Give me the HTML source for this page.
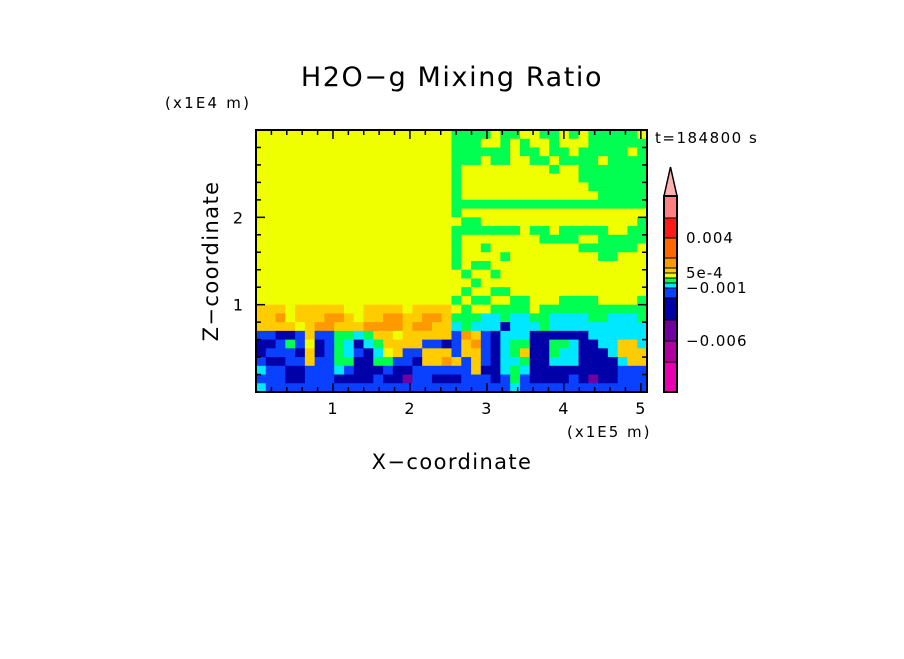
<!DOCTYPE html>
<html><head><meta charset="utf-8"><style>
body{margin:0;background:#fff;width:904px;height:654px;overflow:hidden}
text{font-family:"DejaVu Sans","Liberation Sans",sans-serif}
</style></head><body>
<svg id="s" width="904" height="654" xmlns="http://www.w3.org/2000/svg">
<text x="452" y="86" font-size="27" letter-spacing="1.6" text-anchor="middle">H2O−g Mixing Ratio</text>
<text x="165" y="108" font-size="15" letter-spacing="2.2">(x1E4 m)</text>
<text x="655" y="143" font-size="15" letter-spacing="1.5">t=184800 s</text>
<text x="567" y="437" font-size="15" letter-spacing="2">(x1E5 m)</text>
<text x="452" y="469" font-size="21" letter-spacing="1.4" text-anchor="middle">X−coordinate</text>
<text transform="translate(218,261) rotate(-90)" font-size="21" letter-spacing="1.4" text-anchor="middle">Z−coordinate</text>
<g id="field"></g>
<g id="axes"></g>
<g id="cbar"></g>
</svg>
<script>
const palette={Y:"#f0ff00",G:"#00ff50",C:"#00e8ff",B:"#0a40ff",D:"#0000a8",O:"#ffcc00",R:"#ff9900",P:"#7000a0"};
const leftTop="YYYYYYYYYYYYYYYYYYYY";
const rightTop=["GGGGYGGYYGGYGYGGGGGY","GGGYYGYGYYGYYYGGGGGG","GGGGGGYGGYGGYGGGGGYG","GGGYGGYYGGYGGGGYGGGG","GYYYYYYYYYGYYGGGGGGG","GYYYYYYYYYYYYGGGGGGG","GYYYYYYYYYYYYYGGGGGG","GYYYYYYYYYYYYYYGGGGG","GGGGGGGGGGGGGGGGGGGG","GYYYYYYYYYYYYYYYYYYY","YGGYYYYYYYYYYYYYYYYG","GGGGGGGYGGYGGGGGYYGG","GYYYYYYYYGGGGYYGGGGG","GYYGYYYYYYYYYGGGGGGY","GYYYYGYYYYYYYYYGGYYY","GYGGYYYYYYYYYYYYYYYY","YGYYGYYYYYYYYYYYYYYY","YYGYYYYYYYYYYYYYYYYY","YGYYGGYYYYYYYYYYYYYY","GYGGYYGGYYYGGGGYYYYG"];
const lowerRows=["OOOYOOOOOYYOOOOYOOOO"+"YGYYGGGGYGGGGGGGGGGG","OORYOOORROYOORROORRO"+"GGGCCGCCGGCCCCGGCCCG","OOOOYORROOORRRRORROO"+"CGCCCDCCCGCCCCCCCCCC","BBDDBOBBGGCGOOYOOOOO"+"BROBDCCCDDDDDDCCCCCC","DDBGBYDBGCDCGOOOOBBD"+"BORBDCGGDDGGCDDCCOOC","DBBBDODBGCBDCYOBBOOO"+"BOOBDCGODDGCCDDDCOOO","BDDBBOBBGGDDGGBBDOOR"+"OBOBDCCGDDCCCDDDDCOO","CBBDDBBBCBDDDBDDBBBB"+"BBODDCGCDDDDDDDDDBBB","BBBDDBBBDDDDBDDPBBDD"+"DBBBDBGBDDDDBDPDDBBB","CBBBBBBBBBBBBBBBBBBB"+"BBBBBBCBBBBBBBBBBBBB"];
const xTicks=[1,2,3,4,5];
const yTicks=[1,2];
const cbColors=["#e800b0","#b000a0","#7000a0","#0000a8","#0a40ff","#00e8ff","#00ff50","#f0ff00","#ffcc00","#ff9900","#ff6600","#ff1a1a","#ff8080"];
const cbLevels=[-0.01,-0.008,-0.006,-0.004,-0.002,-0.001,-0.0005,0,0.0005,0.001,0.002,0.004,0.006,0.008];
const cbLabels=[["0.004",0.004],["5e-4",0.0005],["−0.001",-0.001],["−0.006",-0.006]];
const X0=256,X1=647,Y0=130,Y1=392,XMAX=5.08,ZMAX=3.0;
const sx=v=>X0+v/XMAX*(X1-X0), sz=v=>Y1-v/ZMAX*(Y1-Y0);
const NS="http://www.w3.org/2000/svg";
const f=document.getElementById('field');
const rows=rightTop.map(r=>leftTop+r).concat(lowerRows);
const nr=rows.length,nc=40,dx=XMAX/nc,dz=ZMAX/nr;
rows.forEach((row,i)=>{[...row].forEach((ch,j)=>{
 const r=document.createElementNS(NS,'rect');
 
 
 const x=sx(j*dx),y=sz(ZMAX-i*dz);
 r.setAttribute('x',x);r.setAttribute('y',y);
 r.setAttribute('width',sx((j+1)*dx)-x+0.5);r.setAttribute('height',sz(ZMAX-(i+1)*dz)-y+0.5);
 r.setAttribute('fill',palette[ch]);f.appendChild(r);});});
const a=document.getElementById('axes');
function ln(x1,y1,x2,y2,w,name){const l=document.createElementNS(NS,'line');
 
 
 l.setAttribute('x1',x1);l.setAttribute('y1',y1);l.setAttribute('x2',x2);l.setAttribute('y2',y2);l.setAttribute('stroke','#000');l.setAttribute('stroke-width',w);a.appendChild(l);}
function tx(x,y,s,anchor,name,size){const t=document.createElementNS(NS,'text');
 
 
 t.setAttribute('x',x);t.setAttribute('y',y);t.setAttribute('font-size',size||'16');t.setAttribute('letter-spacing','1');t.setAttribute('text-anchor',anchor);t.textContent=s;document.getElementById('s').appendChild(t);}
for(let v=0.2;v<XMAX;v+=0.2){const x=sx(v),maj=Math.abs(v-Math.round(v))<0.01;const L=maj?9:5;
 ln(x,Y1,x,Y1-L,1.5,'x-tick');ln(x,Y0,x,Y0+L,1.5,'x-tick-top');}
for(let v=0.2;v<ZMAX;v+=0.2){const y=sz(v),maj=Math.abs(v-Math.round(v))<0.01;const L=maj?9:5;
 ln(X0,y,X0+L,y,1.5,'y-tick');ln(X1,y,X1-L,y,1.5,'y-tick-right');}
xTicks.forEach(v=>tx(sx(v),414,String(v),'middle','x-tick-label'));
yTicks.forEach(v=>tx(244,sz(v)+6,String(v),'end','y-tick-label'));
const fr=document.createElementNS(NS,'rect');


fr.setAttribute('x',X0);fr.setAttribute('y',Y0);fr.setAttribute('width',X1-X0);fr.setAttribute('height',Y1-Y0);fr.setAttribute('fill','none');fr.setAttribute('stroke','#000');fr.setAttribute('stroke-width','2');a.appendChild(fr);
const cb=document.getElementById('cbar');
const segY=[392,362,341,320,298,288,283,278,273,268,258,238,218,196];
const CX=664,CW=13;
const cy=v=>{for(let k=0;k<cbLevels.length-1;k++){if(v<=cbLevels[k+1]){const t=(v-cbLevels[k])/(cbLevels[k+1]-cbLevels[k]);return segY[k]+t*(segY[k+1]-segY[k]);}}return segY[segY.length-1];};
cbColors.forEach((c,k)=>{const r=document.createElementNS(NS,'rect');
 
 
 const y1=cy(cbLevels[k+1]),y0=cy(cbLevels[k]);
 r.setAttribute('x',CX);r.setAttribute('y',y1);r.setAttribute('width',CW);r.setAttribute('height',y0-y1);r.setAttribute('fill',c);r.setAttribute('stroke','#000');r.setAttribute('stroke-width','1');cb.appendChild(r);});
const tri=document.createElementNS(NS,'polygon');


tri.setAttribute('points',`${CX},196 ${CX+CW},196 ${CX+CW/2},167`);tri.setAttribute('fill','#ffb0b0');tri.setAttribute('stroke','#000');tri.setAttribute('stroke-width','1.5');cb.appendChild(tri);
const ob=document.createElementNS(NS,'rect');


ob.setAttribute('x',CX);ob.setAttribute('y',196);ob.setAttribute('width',CW);ob.setAttribute('height',196);ob.setAttribute('fill','none');ob.setAttribute('stroke','#000');ob.setAttribute('stroke-width','2');cb.appendChild(ob);
cbLabels.forEach(([s,v])=>tx(686,cy(v)+5,s,'start','colorbar-label','15'));
</script>
</body></html>
